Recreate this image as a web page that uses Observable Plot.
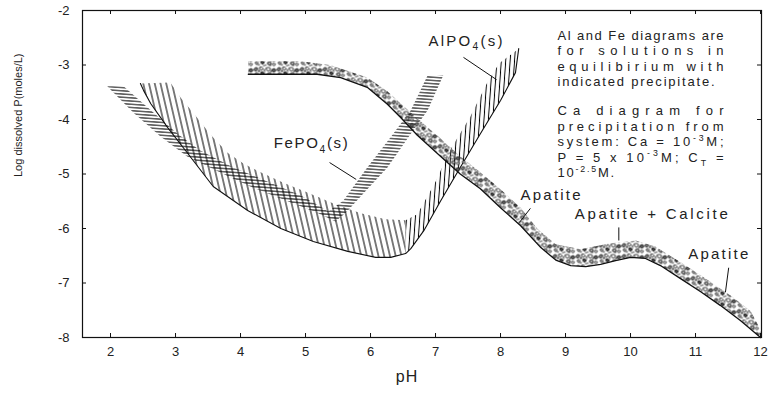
<!DOCTYPE html>
<html><head><meta charset="utf-8">
<script src="https://cdn.jsdelivr.net/npm/d3@7"></script>
<script src="https://cdn.jsdelivr.net/npm/@observablehq/plot@0.6"></script>
<style>
html,body{margin:0;padding:0;background:#fff;}
svg{font-family:"Liberation Sans",Arial,Helvetica,sans-serif;}
</style></head>
<body><div id="chart"></div>
<script>
// ---------- data (pH, log dissolved P) ----------
const xTicks = [2, 3, 4, 5, 6, 7, 8, 9, 10, 11, 12];
const yTicks = [-8, -7, -6, -5, -4, -3, -2];

// Ca (apatite / calcite) band
const caLower = [[4.12,-3.17],[5.18,-3.17],[5.54,-3.23],[5.95,-3.41],[6.26,-3.72],[6.46,-3.96],[6.72,-4.29],[7.08,-4.68],[7.38,-5.00],[7.69,-5.27],[8.0,-5.62],[8.31,-5.95],[8.62,-6.35],[8.85,-6.58],[9.08,-6.68],[9.31,-6.70],[9.54,-6.66],[9.77,-6.59],[10.0,-6.53],[10.23,-6.55],[10.46,-6.68],[10.77,-6.92],[11.08,-7.16],[11.38,-7.41],[11.69,-7.69],[12.0,-8.0]];
const caUpper = [[4.12,-2.93],[4.92,-2.93],[5.38,-3.00],[5.95,-3.23],[6.26,-3.48],[6.46,-3.70],[6.72,-3.98],[7.08,-4.35],[7.38,-4.68],[7.69,-4.97],[8.0,-5.28],[8.31,-5.62],[8.57,-6.01],[8.85,-6.29],[9.23,-6.38],[9.69,-6.27],[10.08,-6.22],[10.38,-6.33],[10.77,-6.62],[11.08,-6.86],[11.54,-7.23],[11.85,-7.52],[12.0,-7.86]];

// FePO4(s) band
const feOuter = [[1.95,-3.39],[2.35,-3.87],[2.77,-4.31],[3.18,-4.68],[3.65,-4.95],[4.15,-5.23],[4.66,-5.47],[5.18,-5.71],[5.46,-5.87],[5.62,-5.71],[5.89,-5.36],[6.26,-4.88],[6.62,-4.26],[6.88,-3.83],[7.12,-3.19]];
const feInner = [[2.20,-3.39],[2.62,-3.83],[3.03,-4.26],[3.38,-4.57],[3.89,-4.88],[4.42,-5.14],[4.92,-5.39],[5.23,-5.60],[5.35,-5.69],[5.58,-5.49],[5.95,-4.88],[6.35,-4.26],[6.62,-3.83],[6.88,-3.19]];

// AlPO4(s) band
const alOuter = [[2.46,-3.34],[2.51,-3.47],[2.62,-3.71],[2.88,-4.15],[3.18,-4.61],[3.58,-5.23],[4.11,-5.67],[4.62,-6.0],[5.12,-6.24],[5.65,-6.42],[6.08,-6.53],[6.31,-6.53],[6.54,-6.46],[6.62,-6.37],[6.82,-6.04],[7.08,-5.49],[7.38,-4.88],[7.69,-4.26],[8.0,-3.65],[8.23,-3.14],[8.28,-2.70]];
const alInner = [[2.92,-3.32],[3.08,-3.60],[3.28,-3.89],[3.54,-4.28],[3.80,-4.61],[4.05,-4.81],[4.31,-4.97],[4.66,-5.16],[5.03,-5.34],[5.43,-5.54],[5.85,-5.72],[6.23,-5.83],[6.54,-5.85],[6.72,-5.74],[6.99,-5.17],[7.22,-4.57],[7.53,-3.96],[7.79,-3.34],[7.98,-2.97]];
const alBend = 6.54;

// labels and their leader lines
const labels = [
  {text: "AlPO_{4}(s)", pH: 7.46, logP: -2.56},
  {text: "FePO_{4}(s)", pH: 5.08, logP: -4.44},
  {text: "Apatite", pH: 8.77, logP: -5.38},
  {text: "Apatite + Calcite", pH: 10.32, logP: -5.74},
  {text: "Apatite", pH: 11.35, logP: -6.48}
];
const leaders = [
  {pH1: 7.43, logP1: -2.86, pH2: 7.94, logP2: -3.27},
  {pH1: 5.37, logP1: -4.79, pH2: 5.78, logP2: -5.10},
  {pH1: 8.46, logP1: -5.63, pH2: 8.29, logP2: -5.89},
  {pH1: 9.82, logP1: -5.98, pH2: 9.82, logP2: -6.22},
  {pH1: 11.51, logP1: -6.72, pH2: 11.46, logP2: -7.17}
];
const noteLines = [
  "Al and Fe diagrams are",
  "for solutions in",
  "equilibirium with",
  "indicated precipitate.",
  "Ca diagram for",
  "precipitation from",
  "system: Ca = 10^{-3}M;",
  "P = 5 x 10^{-3}M; C_{T} =",
  "10^{-2.5}M."
];
const justified = [true, true, true, false, true, true, true, true, false];
const xLabel = "pH";
const yLabel = "Log dissolved P(moles/L)";

// ---------- polygons built from the edges ----------
const fePoly = [...feInner, ...feOuter.slice().reverse()];
const alPolyL = [...alInner.filter(d => d[0] <= alBend), ...alOuter.filter(d => d[0] <= alBend).reverse()];
const alPolyR = [...alInner.filter(d => d[0] >= alBend), ...alOuter.filter(d => d[0] >= alBend).reverse()];
const caPoly = [...caLower, ...caUpper.slice().reverse()];

const X = d => d[0], Y = d => d[1];
const ink = "#111";
const frameH = 327, frameW = 679, tick = 4;

const marks = [
  Plot.line(fePoly, {x: X, y: Y, fill: "url(#hatchFe)", stroke: "none"}),
  Plot.line(alPolyL, {x: X, y: Y, fill: "url(#hatchAlL)", stroke: "none"}),
  Plot.line(alPolyR, {x: X, y: Y, fill: "url(#hatchAlR)", stroke: "none"}),
  Plot.line(alOuter, {x: X, y: Y, stroke: ink, strokeWidth: 1.1}),
  Plot.line(caPoly, {x: X, y: Y, fill: "url(#pebble)", stroke: "none"}),
  Plot.line(caLower, {x: X, y: Y, stroke: ink, strokeWidth: 1.3}),
  Plot.link(leaders, {x1: "pH1", y1: "logP1", x2: "pH2", y2: "logP2", stroke: ink, strokeWidth: 1}),
  Plot.text(labels, {x: "pH", y: "logP", text: "text", fontSize: 15, fill: "#222", textAnchor: "middle"}),
  ...noteLines.map((t, i) => Plot.text([t], {frameAnchor: "top-left", dx: 475, dy: 20 + i * 15.5 + (i >= 4 ? 13.5 : 0), textAnchor: "start", fontSize: 13, fill: "#222"})),
  Plot.tickX(xTicks, {x: d => d, insetTop: frameH - tick, stroke: ink}),
  Plot.tickX(xTicks, {x: d => d, insetBottom: frameH - tick, stroke: ink}),
  Plot.tickY(yTicks, {y: d => d, insetRight: frameW - tick, stroke: ink}),
  Plot.tickY(yTicks, {y: d => d, insetLeft: frameW - tick, stroke: ink}),
  Plot.frame({stroke: ink, strokeWidth: 1.2}),
  Plot.axisX(xTicks, {tickSize: 0, tickPadding: 9, fontSize: 13, label: null, tickFormat: d => String(d), fill: "#222"}),
  Plot.axisY(yTicks, {tickSize: 0, tickPadding: 13, fontSize: 13, label: null, tickFormat: d => String(d), fill: "#222"}),
  Plot.text([xLabel], {frameAnchor: "bottom", dx: -15, dy: 44, fontSize: 16, fill: "#222"}),
  Plot.text([yLabel], {frameAnchor: "left", dx: -64, dy: 3, rotate: -90, fontSize: 11, fill: "#222"})
];

const svg = Plot.plot({
  width: 771, height: 394,
  marginLeft: 82, marginRight: 10, marginTop: 10, marginBottom: 57,
  style: {background: "#fff", color: ink, fontFamily: '"Liberation Sans", Arial, Helvetica, sans-serif'},
  x: {domain: [1.569, 12.015]},
  y: {domain: [-8, -2]},
  marks
});
document.getElementById("chart").appendChild(svg);

// hatch / texture patterns
d3.select(svg).insert("defs", ":first-child").html(`
<pattern id="hatchFe" patternUnits="userSpaceOnUse" width="8" height="3.2" patternTransform="rotate(4)">
  <line x1="0" y1="1.6" x2="8" y2="1.6" stroke="#000" stroke-width="1"/></pattern>
<pattern id="hatchAlL" patternUnits="userSpaceOnUse" width="5.6" height="10" patternTransform="rotate(-13)">
  <line x1="2.8" y1="0" x2="2.8" y2="10" stroke="#000" stroke-width="1"/></pattern>
<pattern id="hatchAlR" patternUnits="userSpaceOnUse" width="4.4" height="10" patternTransform="rotate(4)">
  <line x1="2.2" y1="0" x2="2.2" y2="10" stroke="#000" stroke-width="1"/></pattern>
<pattern id="pebble" patternUnits="userSpaceOnUse" width="23" height="11">
  <path d="M0.5 2.5 q1.5 -2.5 3.5 -1 q1 1.8 -1 2.8 q-2.5 0.8 -2.5 -1.8z" fill="#888" stroke="#000" stroke-width="0.8"/>
  <path d="M6 0.8 q2.5 -1 3.5 1 q0 1.8 -1.8 1.8 q-1.8 0 -1.7 -2.8z" fill="#fff" stroke="#000" stroke-width="0.8"/>
  <path d="M7.5 5.5 q2.5 -1 3.5 1.5 q-0.8 1.8 -2.6 1.4 q-1.7 -0.8 -0.9 -2.9z" fill="#444" stroke="#000" stroke-width="0.8"/>
  <path d="M2 6.5 q1.8 -1 2.8 0.8 q0 1.8 -1.8 1.8 q-1.8 -0.8 -1 -2.6z" fill="#ccc" stroke="#000" stroke-width="0.8"/>
  <path d="M12.5 1.5 q3 -1.5 4.5 0.5 q0.5 2 -2 2.5 q-2.5 0 -2.5 -3z" fill="#fff" stroke="#000" stroke-width="0.8"/>
  <path d="M18.5 3 q2.5 -2 4 0.5 q-0.5 2.2 -2.5 2 q-2 -0.5 -1.5 -2.5z" fill="#666" stroke="#000" stroke-width="0.8"/>
  <path d="M14 7 q2 -1.5 3.5 0 q0.5 2 -1.5 2.5 q-2.5 0 -2 -2.5z" fill="#bbb" stroke="#000" stroke-width="0.8"/>
  <path d="M19 8 q1.5 -1 3 0.5 q-0.3 1.8 -1.8 1.8 q-1.5 -0.5 -1.2 -2.3z" fill="#fff" stroke="#000" stroke-width="0.8"/>
  <circle cx="5.5" cy="4.5" r="0.9" fill="#000"/>
  <circle cx="11" cy="3.2" r="0.7" fill="#000"/>
  <circle cx="17.5" cy="5" r="0.8" fill="#000"/>
  <circle cx="12" cy="9.8" r="0.7" fill="#000"/>
  <path d="M4.5 9.8 l2 -0.8 M9.5 10 l1.5 0.3 M16 10.2 l2 -0.6 M10.5 4.5 l1.5 0.8" stroke="#000" stroke-width="0.8"/>
</pattern>`);

// text finishing: justification, tracking, sub/superscripts
const noteWidth = 166;
const labelWidth = {"AlPO_{4}(s)": 74, "FePO_{4}(s)": 74, "Apatite": 60, "Apatite + Calcite": 153};
const NS = "http://www.w3.org/2000/svg";
function richify(el) {
  const s = el.textContent;
  if (!/[\^_]\{/.test(s)) return;
  const size = parseFloat(getComputedStyle(el).fontSize) || 13;
  const parts = s.split(/([\^_]\{[^}]*\})/);
  el.textContent = "";
  let shift = 0;
  for (const p of parts) {
    if (!p) continue;
    const m = p.match(/^([\^_])\{([^}]*)\}$/);
    const ts = document.createElementNS(NS, "tspan");
    if (m) {
      const d = m[1] === "^" ? -0.42 * size : 0.3 * size;
      ts.setAttribute("dy", d - shift); shift = d;
      ts.setAttribute("font-size", (0.68 * size).toFixed(1));
      ts.textContent = m[2];
    } else {
      ts.setAttribute("dy", -shift); shift = 0;
      ts.textContent = p;
    }
    el.appendChild(ts);
  }
}
d3.select(svg).selectAll("text").each(function() {
  const raw = this.textContent;
  const ni = noteLines.indexOf(raw);
  if (ni >= 0) {
    if (justified[ni]) { this.setAttribute("textLength", noteWidth); this.setAttribute("lengthAdjust", "spacing"); }
    else this.setAttribute("letter-spacing", "1.8");
  } else if (labelWidth[raw]) {
    this.setAttribute("textLength", labelWidth[raw]); this.setAttribute("lengthAdjust", "spacing");
  } else if (raw === xLabel) {
    this.setAttribute("letter-spacing", "1");
  }
  richify(this);
});
</script>
</body></html>
